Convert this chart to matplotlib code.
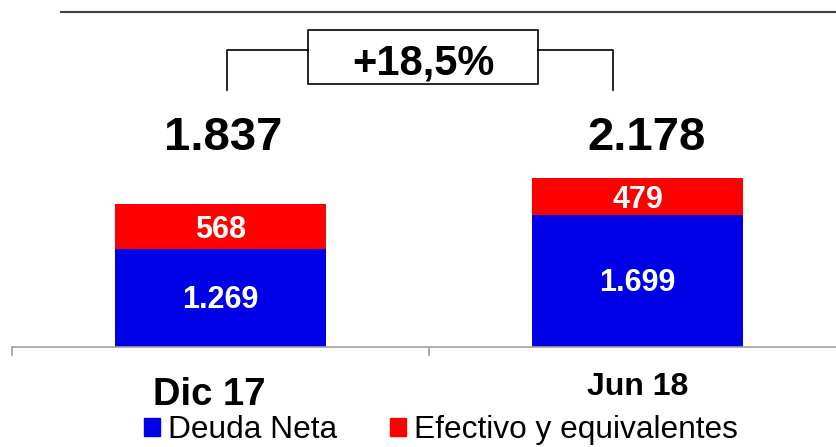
import matplotlib
matplotlib.use('Agg')
import matplotlib.pyplot as plt
from matplotlib.patches import Rectangle, Patch
import numpy as np

plt.rcParams['font.family'] = ['Liberation Sans', 'DejaVu Sans']

categories = ['Dic 17', 'Jun 18']
deuda_neta = [1269, 1699]
efectivo = [568, 479]
totales = [1837, 2178]
total_labels = ['1.837', '2.178']
deuda_labels = ['1.269', '1.699']
efectivo_labels = ['568', '479']
variacion = '+18,5%'

BLUE = '#0000E6'
RED = '#FF0000'

fig = plt.figure(figsize=(8.36, 4.47), dpi=100)
# axes: x from px 12 to 836, y from px 12 (top) to 347 (baseline)
ax = fig.add_axes([12/836, 100/447, 824/836, 335/447])
x = np.arange(len(categories))

ax.bar(x, deuda_neta, width=0.505, color=BLUE, label='Deuda Neta')
ax.bar(x, efectivo, width=0.505, bottom=deuda_neta, color=RED,
       label='Efectivo y equivalentes')

# segment labels, centred in each stack part
for i in range(len(categories)):
    ax.text(x[i], deuda_neta[i] / 2 - 30, deuda_labels[i], ha='center',
            va='center', color='white', fontsize=22, fontweight='bold')
    ax.text(x[i], deuda_neta[i] + efectivo[i] / 2 - 40, efectivo_labels[i],
            ha='center', va='center', color='white', fontsize=22,
            fontweight='bold')

ax.set_xlim(-0.5, -0.5 + 824/417)
ax.set_ylim(0, 4317)

for s in ['left', 'right']:
    ax.spines[s].set_visible(False)
ax.spines['bottom'].set_color('#A0A0A0')
ax.spines['bottom'].set_linewidth(1.2)
ax.spines['top'].set_color('#404040')
ax.spines['top'].set_linewidth(1.5)
ax.spines['top'].set_bounds(-0.3825, 1.6)
ax.set_yticks([])
ax.set_xticks([-0.5, 0.5])
ax.set_xticklabels([])
ax.tick_params(axis='x', direction='out', length=6.5, width=1.2, color='#A0A0A0')

tr = ax.get_xaxis_transform()

# category labels
cat_dx = [-0.026, 0.0]
cat_y = [-0.173, -0.143]
cat_size = [27.5, 23]
for i, c in enumerate(categories):
    ax.text(x[i] + cat_dx[i], cat_y[i], c, transform=tr, ha='center',
            va='baseline', fontsize=cat_size[i], fontweight='bold')

# totals above bars
tot_dx = [0.006, 0.022]
for i, t in enumerate(total_labels):
    ax.text(x[i] + tot_dx[i], 0.588, t, transform=tr, ha='center',
            va='baseline', fontsize=34, fontweight='bold')

# bracket with growth box
xl, xr = 0.0156, 0.941
bx0, bx1 = 0.2098, 0.7614
yb, yt = 0.767, 0.8866
ax.plot([xl, xl, bx0], [yb, yt, yt], color='black', lw=1.2,
        transform=tr, clip_on=False)
ax.plot([bx1, xr, xr], [yt, yt, yb], color='black', lw=1.2,
        transform=tr, clip_on=False)
ax.add_patch(Rectangle((bx0, 0.785), bx1 - bx0, 0.946 - 0.785, transform=tr,
                       facecolor='white', edgecolor='black', lw=1.2,
                       clip_on=False))
ax.text((bx0 + bx1) / 2, 0.813, variacion, transform=tr, ha='center',
        va='baseline', fontsize=30, fontweight='bold')

handles = [Patch(color=BLUE, label='Deuda Neta'),
           Patch(color=RED, label='Efectivo y equivalentes')]
fig.legend(handles=handles, loc='center', bbox_to_anchor=(441/836, 1 - 430/447),
           ncol=2, frameon=False, fontsize=22.8, handlelength=0.52,
           handleheight=0.52, handletextpad=0.25, columnspacing=1.65,
           borderpad=0, borderaxespad=0)

fig.savefig('out.png', dpi=100)
